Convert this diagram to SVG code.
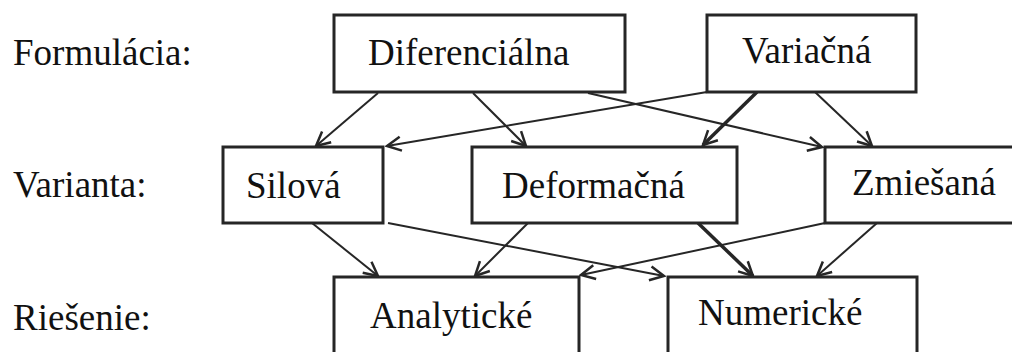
<svg xmlns="http://www.w3.org/2000/svg" width="1012" height="352" viewBox="0 0 1012 352">
<defs>
<style>
.box{fill:#fff;stroke:#262626;stroke-width:3}
.t{font-family:"Liberation Serif","Times New Roman",serif;font-size:37px;fill:#111}
.c{fill:none;stroke:#262626;stroke-width:2;marker-end:url(#ah)}
.k{stroke-width:3.5}
</style>
<marker id="ah" markerUnits="userSpaceOnUse" markerWidth="18" markerHeight="18" viewBox="0 0 18 18" refX="16" refY="9" orient="auto">
<path d="M2,2 L16,9 L2,16" fill="none" stroke="#262626" stroke-width="2.5"/>
</marker>
</defs>
<rect width="1012" height="352" fill="#fff"/>
<g id="labels">
<text class="t" x="13" y="65">Formulácia:</text>
<text class="t" x="13" y="197">Varianta:</text>
<text class="t" x="13" y="330">Riešenie:</text>
</g>
<g id="connectors">
<line class="c" x1="378" y1="93" x2="316" y2="146"/>
<line class="c" x1="473" y1="93" x2="526" y2="146"/>
<line class="c" x1="588" y1="93" x2="822" y2="147"/>
<line class="c" x1="707" y1="92" x2="387" y2="146"/>
<line class="c k" x1="757" y1="92" x2="703" y2="145"/>
<line class="c" x1="815" y1="92" x2="872" y2="146"/>
<line class="c" x1="312" y1="223" x2="378" y2="276"/>
<line class="c" x1="388" y1="223" x2="664" y2="276"/>
<line class="c" x1="528" y1="223" x2="475" y2="276"/>
<line class="c k" x1="698" y1="223" x2="753" y2="276"/>
<line class="c" x1="825" y1="223" x2="581" y2="275"/>
<line class="c" x1="877" y1="223" x2="817" y2="276"/>
</g>
<g id="n-diferencialna">
<rect class="box" x="334" y="15" width="291" height="77"/>
<text class="t" x="368" y="65">Diferenciálna</text>
</g>
<g id="n-variacna">
<rect class="box" x="707" y="15" width="209" height="77"/>
<text class="t" x="742" y="63">Variačná</text>
</g>
<g id="n-silova">
<rect class="box" x="223" y="147" width="160" height="76"/>
<text class="t" x="246" y="198">Silová</text>
</g>
<g id="n-deformacna">
<rect class="box" x="472" y="147" width="265" height="76"/>
<text class="t" x="502" y="198">Deformačná</text>
</g>
<g id="n-zmiesana">
<rect class="box" x="825" y="147" width="200" height="76"/>
<text class="t" x="852" y="195">Zmiešaná</text>
</g>
<g id="n-analyticke">
<rect class="box" x="334" y="277" width="245" height="90"/>
<text class="t" x="370" y="328">Analytické</text>
</g>
<g id="n-numericke">
<rect class="box" x="668" y="277" width="249" height="90"/>
<text class="t" x="698" y="325">Numerické</text>
</g>
</svg>
